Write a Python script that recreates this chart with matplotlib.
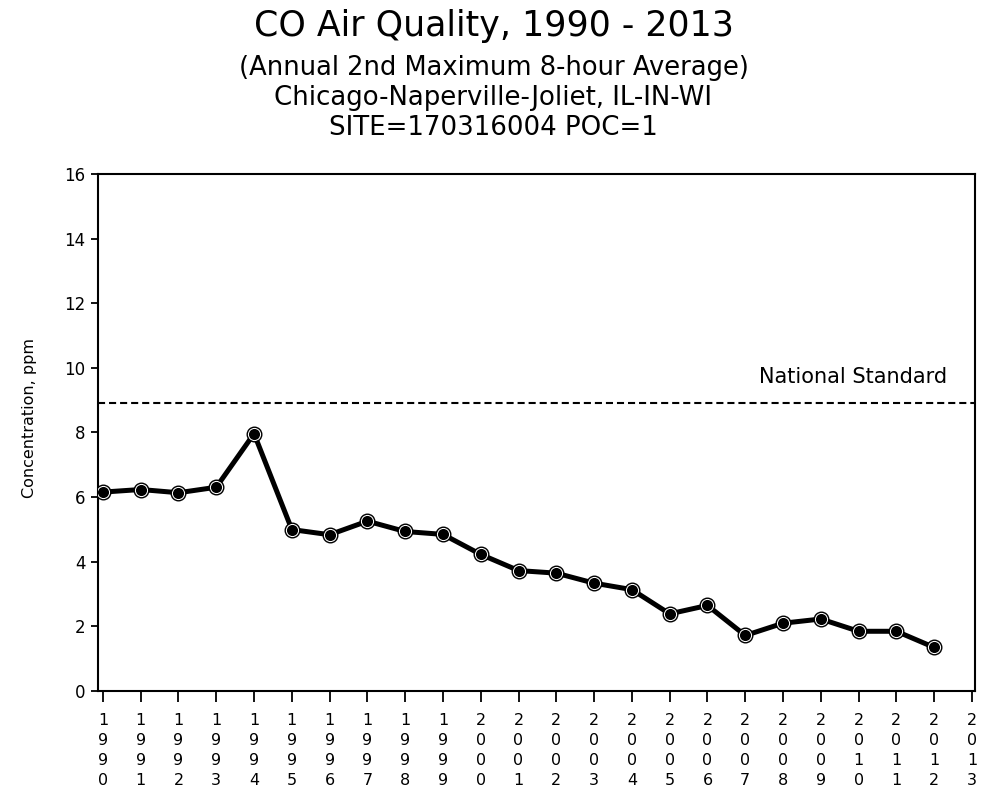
import matplotlib
matplotlib.use("Agg")
import matplotlib.pyplot as plt

plt.rcParams['font.family'] = ['DejaVu Sans']

years = list(range(1990, 2013))
values = [6.15, 6.23, 6.13, 6.3, 7.96, 4.99, 4.83, 5.25, 4.93, 4.84, 4.22, 3.72,
          3.64, 3.33, 3.13, 2.38, 2.64, 1.71, 2.09, 2.22, 1.84, 1.84, 1.34]
tick_years = list(range(1990, 2014))
tick_labels = ["\n".join(str(y)) for y in tick_years]
y_ticks = list(range(0, 17, 2))
standard = 8.9
standard_label = "National Standard"

W, H = 987, 795
fig = plt.figure(figsize=(W / 100, H / 100), dpi=100)
ax = fig.add_axes([98 / W, 1 - 690.7 / H, (975 - 98) / W, (690.7 - 174) / H])

ax.plot(years, values, color='black', lw=3.6, zorder=3)
ax.plot(years, values, ls='none', marker='o', ms=9, mfc='black', mec='white',
        mew=1.0, zorder=4)
ax.plot(years, values, ls='none', marker='o', ms=10.5, mfc='none', mec='black',
        mew=1.0, zorder=5)
ax.axhline(standard, color='black', lw=1.5, ls=(0, (3.4, 1.9)))
fig.text(947 / W, 1 - 383 / H, standard_label, ha='right', va='baseline',
         fontsize=15)

ax.set_xlim(1989.87, 2013.08)
ax.set_ylim(0, 16)
ax.set_yticks(y_ticks)
ax.set_xticks(tick_years)
ax.set_xticklabels(tick_labels, linespacing=1.43, fontsize=11.5)
ax.tick_params(axis='y', labelsize=12, direction='out', length=5, width=1.3, pad=4)
ax.tick_params(axis='x', direction='out', length=8, width=1.3, pad=8)
for s in ax.spines.values():
    s.set_linewidth(1.5)
ax.set_ylabel("Concentration, ppm", fontsize=11.5)
ax.yaxis.set_label_coords((37 - 98) / 877, (690.7 - 418) / 516.7)

# Title block (baselines in pixels from top)
fig.text(0.5, 1 - 36 / H, "CO Air Quality, 1990 - 2013", ha='center', va='baseline', fontsize=25)
fig.text(0.5, 1 - 75 / H, "(Annual 2nd Maximum 8-hour Average)", ha='center', va='baseline', fontsize=18.5)
fig.text(0.5, 1 - 105 / H, "Chicago-Naperville-Joliet, IL-IN-WI", ha='center', va='baseline', fontsize=18.7)
fig.text(0.5, 1 - 135 / H, "SITE=170316004 POC=1", ha='center', va='baseline', fontsize=18.7)

fig.savefig("out.png", dpi=100)
